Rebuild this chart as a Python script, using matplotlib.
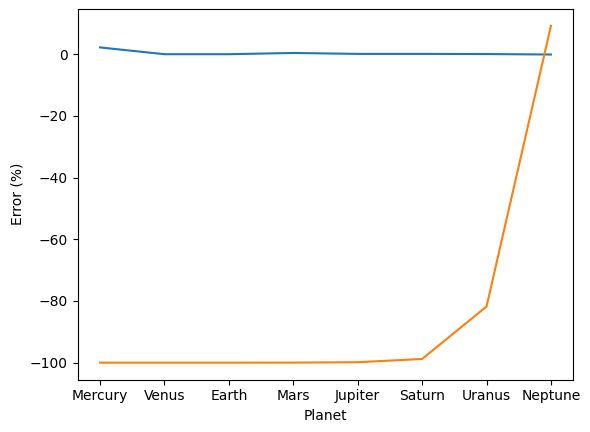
import matplotlib
matplotlib.use("Agg")
import matplotlib.pyplot as plt

planets = ["Mercury", "Venus", "Earth", "Mars", "Jupiter", "Saturn", "Uranus", "Neptune"]
error_a = [2.2, 0.0, 0.0, 0.4, 0.1, 0.1, 0.05, -0.1]
error_b = [-100.0, -100.0, -100.0, -99.98, -99.85, -98.8, -81.8, 9.2]

fig = plt.figure(figsize=(5.9, 4.32), dpi=100)
ax = fig.add_axes([0.1314, 0.1215, 0.8406, 0.8577])
ax.plot(planets, error_a)
ax.plot(planets, error_b)
ax.set_xlabel("Planet")
ax.set_ylabel("Error (%)")
fig.savefig("out.png", dpi=100)
